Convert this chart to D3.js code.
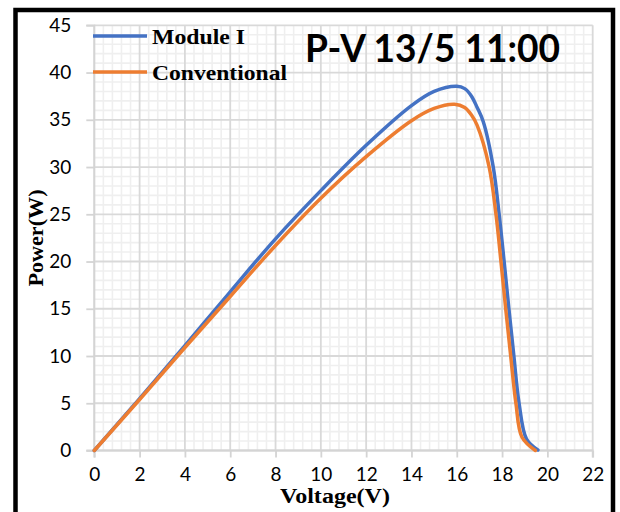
<!DOCTYPE html>
<html>
<head>
<meta charset="utf-8">
<script src="https://cdn.jsdelivr.net/npm/d3@7"></script>
<style>
  html, body { margin: 0; padding: 0; background: #fff; }
  svg { display: block; }
</style>
</head>
<body>
<svg id="chart" width="620" height="512"></svg>
<script>
// P-V curves, 13/5 at 11:00
const moduleV = [0, 2, 4, 6, 8, 10, 12, 14, 15, 16, 16.35, 16.65, 16.9, 17.17, 17.61, 17.87, 18.09, 18.3, 18.52, 18.75, 19.08, 19.58];
const moduleP = [0, 5.5, 11.1, 16.8, 22.4, 27.5, 32.3, 36.5, 38.0, 38.55, 38.3, 37.5, 36.3, 34.8, 30, 25, 20, 15, 10, 5, 1.2, 0.05];
const convV = [0, 2, 4, 6, 8, 10, 12, 14, 15, 15.9, 16.35, 16.65, 16.9, 17.43, 17.73, 17.95, 18.16, 18.38, 18.61, 18.88, 19.47];
const convP = [0, 5.4, 10.9, 16.3, 21.7, 26.7, 31.1, 34.9, 36.2, 36.65, 36.3, 35.5, 34.4, 30, 25, 20, 15, 10, 5, 1.4, 0];
const seriesNames = ["Module I", "Conventional"];
const seriesColors = ["#4472C4", "#ED7D31"];
const xTicks = [0, 2, 4, 6, 8, 10, 12, 14, 16, 18, 20, 22];
const yTicks = [0, 5, 10, 15, 20, 25, 30, 35, 40, 45];
const titleText = "P-V 13/5 11:00";
const xTitle = "Voltage(V)";
const yTitle = "Power(W)";

const svg = d3.select("#chart");
const x = d3.scaleLinear().domain([0, 22]).range([94.3, 592.7]);
const y = d3.scaleLinear().domain([0, 45]).range([450.5, 25.3]);

// outer frame
svg.append("rect")
  .attr("x", 15.5).attr("y", 10).attr("width", 597.5).attr("height", 560)
  .attr("fill", "none").attr("stroke", "#000").attr("stroke-width", 4.5);

const grid = svg.append("g");
// minor grid
const xMinor = d3.range(0, 22.001, 0.4).filter(v => Math.abs(v / 2 - Math.round(v / 2)) > 1e-6);
const yMinor = d3.range(0, 45.001, 1).filter(v => v % 5 !== 0);
grid.selectAll(".xm").data(xMinor).join("line")
  .attr("x1", d => x(d)).attr("x2", d => x(d)).attr("y1", y(0)).attr("y2", y(45))
  .attr("stroke", "#efefef").attr("stroke-width", 1.6);
grid.selectAll(".ym").data(yMinor).join("line")
  .attr("x1", x(0)).attr("x2", x(22)).attr("y1", d => y(d)).attr("y2", d => y(d))
  .attr("stroke", "#efefef").attr("stroke-width", 1.6);
// major grid
grid.selectAll(".xM").data(xTicks).join("line")
  .attr("x1", d => x(d)).attr("x2", d => x(d)).attr("y1", y(0)).attr("y2", y(45))
  .attr("stroke", "#d9d9d9").attr("stroke-width", 1.8);
grid.selectAll(".yM").data(yTicks).join("line")
  .attr("x1", x(0)).attr("x2", x(22)).attr("y1", d => y(d)).attr("y2", d => y(d))
  .attr("stroke", "#d9d9d9").attr("stroke-width", 1.8);

// axes
const xAxis = d3.axisBottom(x).tickValues(xTicks).tickSize(7).tickPadding(10).tickFormat(d3.format("d"));
const yAxis = d3.axisLeft(y).tickValues(yTicks).tickSize(8).tickPadding(15).tickFormat(d3.format("d"));
const gx = svg.append("g").attr("transform", `translate(0,${y(0)})`).call(xAxis);
const gy = svg.append("g").attr("transform", `translate(${x(0)},0)`).call(yAxis);
[gx, gy].forEach(g => {
  g.select(".domain").attr("stroke", "#d4d4d4").attr("stroke-width", 1.8);
  g.selectAll(".tick line").attr("stroke", "#d4d4d4").attr("stroke-width", 1.8);
  g.selectAll(".tick text").attr("fill", "#000")
    .style("font-family", "Lato, 'Open Sans', sans-serif").style("font-size", "19px");
});
gy.select(".domain").attr("d", `M-8,${y(0)}H0V${y(45)}H-8`).attr("fill", "none");
gx.select(".domain").attr("d", `M0,7V0H${x(22) - x(0)}V7`).attr("transform", `translate(${x(0)},0)`).attr("fill", "none");

// curves
const line = d3.line().x(d => x(d[0])).y(d => y(d[1])).curve(d3.curveCatmullRom.alpha(0.5));
const moduleData = moduleV.map((v, i) => [v, moduleP[i]]);
const convData = convV.map((v, i) => [v, convP[i]]);
[moduleData, convData].forEach((data, i) => {
  svg.append("path").datum(data).attr("d", line)
    .attr("fill", "none").attr("stroke", seriesColors[i]).attr("stroke-width", 3.5)
    .attr("stroke-linejoin", "round").attr("stroke-linecap", "round");
});

// legend
const legendY = [36, 72];
const legendBase = [43.5, 80];
const legendLen = [93, 135];
seriesNames.forEach((name, i) => {
  svg.append("line").attr("x1", 93).attr("x2", 147).attr("y1", legendY[i]).attr("y2", legendY[i])
    .attr("stroke", seriesColors[i]).attr("stroke-width", 3.5);
  svg.append("text").attr("x", 152).attr("y", legendBase[i])
    .attr("textLength", legendLen[i]).attr("lengthAdjust", "spacingAndGlyphs")
    .style("font-family", "'Liberation Serif', serif").style("font-weight", "bold").style("font-size", "21px")
    .text(name);
});

// title
svg.append("text").attr("x", 305).attr("y", 62)
  .attr("textLength", 255).attr("lengthAdjust", "spacingAndGlyphs")
  .style("font-family", "Lato, 'Open Sans', sans-serif").style("font-weight", "bold").style("font-size", "39px")
  .text(titleText);

// axis titles
svg.append("text").attr("x", 335).attr("y", 503).attr("text-anchor", "middle")
  .attr("textLength", 110).attr("lengthAdjust", "spacingAndGlyphs")
  .style("font-family", "'Liberation Serif', serif").style("font-weight", "bold").style("font-size", "20px")
  .text(xTitle);
svg.append("text").attr("transform", "translate(43,238) rotate(-90)").attr("text-anchor", "middle")
  .attr("textLength", 97).attr("lengthAdjust", "spacingAndGlyphs")
  .style("font-family", "'Liberation Serif', serif").style("font-weight", "bold").style("font-size", "20px")
  .text(yTitle);
</script>
</body>
</html>
